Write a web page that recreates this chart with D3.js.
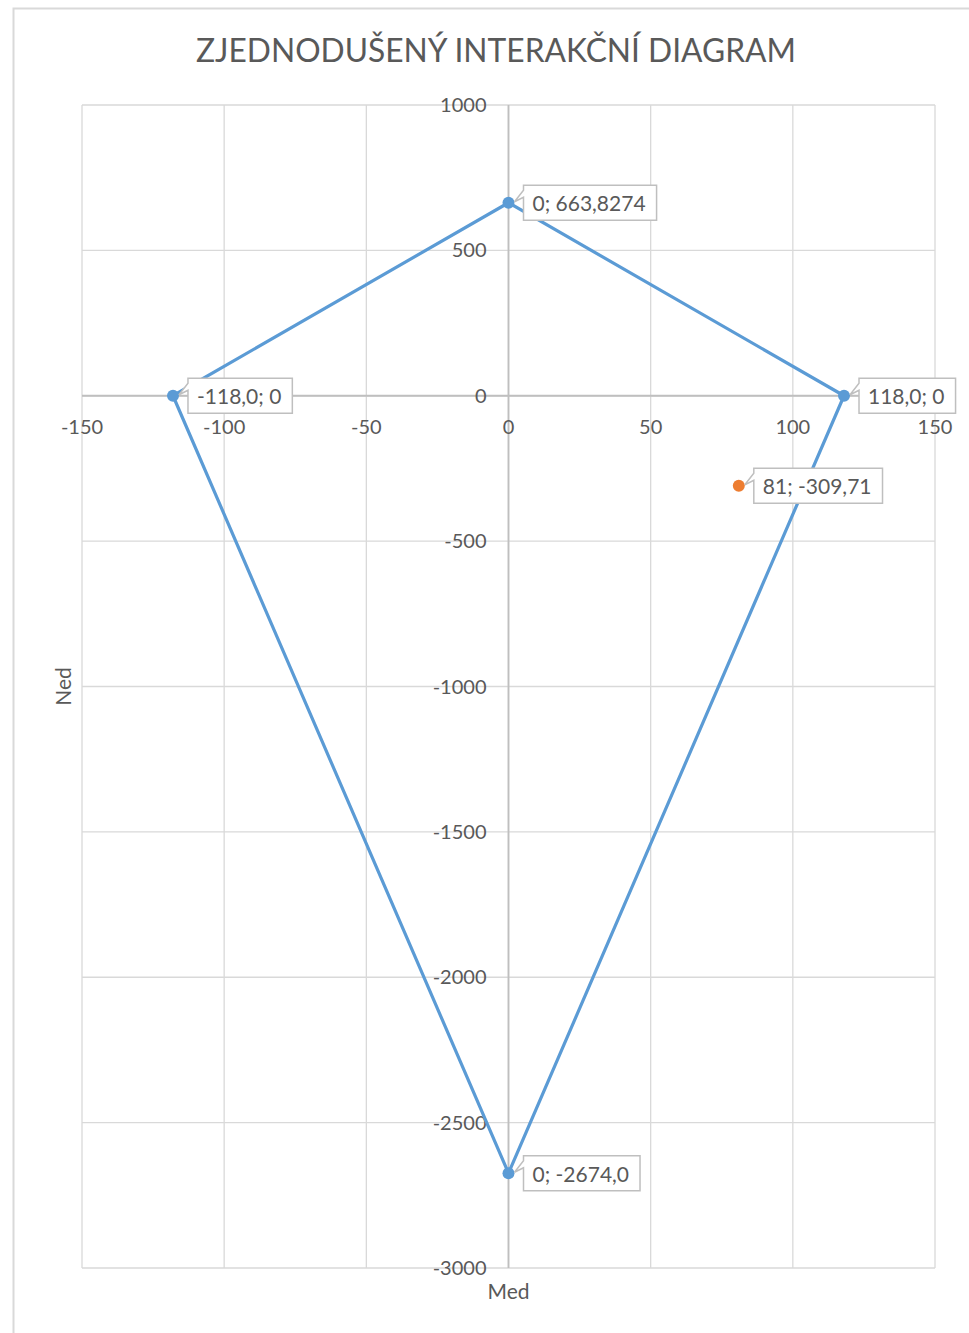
<!DOCTYPE html>
<html><head><meta charset="utf-8">
<script src="https://cdn.jsdelivr.net/npm/d3@7"></script>
<style>body{margin:0;background:#fff}svg{display:block}text{font-family:Lato,"Open Sans",sans-serif;fill:#595959}</style>
</head><body>
<svg id="c" width="969" height="1333"></svg>
<script>
const title = "ZJEDNODUŠENÝ INTERAKČNÍ DIAGRAM";
const xTitle = "Med", yTitle = "Ned";
const xTicks = [-150, -100, -50, 0, 50, 100, 150];
const yTicks = [1000, 500, 0, -500, -1000, -1500, -2000, -2500, -3000];
const diagramM = [-118, 0, 118, 0, -118];
const diagramN = [0, 663.8274, 0, -2674.0, 0];
const diagramLabels = ["-118,0; 0", "0; 663,8274", "118,0; 0", "0; -2674,0"];
const loadM = [81];
const loadN = [-309.71];
const loadLabels = ["81; -309,71"];

const svg = d3.select("#c");
const L = 82, R = 935, T = 105, B = 1268;
const x = d3.scaleLinear().domain([-150, 150]).range([L, R]);
const y = d3.scaleLinear().domain([-3000, 1000]).range([B, T]);

// outer frame
svg.append("rect").attr("x", 13.5).attr("y", 8.5).attr("width", 1000).attr("height", 1400)
  .attr("fill", "none").attr("stroke", "#d9d9d9").attr("stroke-width", 2);

// gridlines
const g = svg.append("g");
g.selectAll(".vx").data(xTicks).join("line")
  .attr("x1", d => x(d)).attr("x2", d => x(d)).attr("y1", T).attr("y2", B)
  .attr("stroke", "#d9d9d9").attr("stroke-width", 1.3);
g.selectAll(".hy").data(yTicks).join("line")
  .attr("y1", d => y(d)).attr("y2", d => y(d)).attr("x1", L).attr("x2", R)
  .attr("stroke", "#d9d9d9").attr("stroke-width", 1.3);
// zero axes
g.append("line").attr("x1", x(0)).attr("x2", x(0)).attr("y1", T).attr("y2", B).attr("stroke", "#bfbfbf").attr("stroke-width", 1.8);
g.append("line").attr("y1", y(0)).attr("y2", y(0)).attr("x1", L).attr("x2", R).attr("stroke", "#bfbfbf").attr("stroke-width", 1.8);

// tick labels
svg.selectAll(".yt").data(yTicks).join("text")
  .attr("x", x(0) - 22).attr("y", d => y(d)).attr("dy", "0.35em")
  .attr("text-anchor", "end").attr("font-size", 20).text(d => d);
svg.selectAll(".xt").data(xTicks).join("text")
  .attr("x", d => x(d)).attr("y", y(0) + 31).attr("dy", "0.35em")
  .attr("text-anchor", "middle").attr("font-size", 20).text(d => d);

// title
const tt = svg.append("text").attr("x", 496).attr("y", 51).attr("dy", "0.35em")
  .attr("text-anchor", "middle").attr("font-size", 32).text(title);
tt.attr("textLength", 600).attr("lengthAdjust", "spacingAndGlyphs");

svg.append("text").attr("x", x(0)).attr("y", 1292).attr("dy", "0.35em")
  .attr("text-anchor", "middle").attr("font-size", 21).text(xTitle);
svg.append("text").attr("transform", `translate(64,${(T + B) / 2}) rotate(-90)`).attr("dy", "0.35em")
  .attr("text-anchor", "middle").attr("font-size", 21).text(yTitle);

// series line
const pts = diagramM.map((m, i) => [m, diagramN[i]]);
svg.append("path").datum(pts)
  .attr("d", d3.line().x(d => x(d[0])).y(d => y(d[1])))
  .attr("fill", "none").attr("stroke", "#5B9BD5").attr("stroke-width", 3.2).attr("stroke-linejoin", "round");
svg.selectAll(".m1").data(pts.slice(0, 4)).join("circle")
  .attr("cx", d => x(d[0])).attr("cy", d => y(d[1])).attr("r", 6).attr("fill", "#5B9BD5");
const lp = loadM.map((m, i) => [m, loadN[i]]);
svg.selectAll(".m2").data(lp).join("circle")
  .attr("cx", d => x(d[0])).attr("cy", d => y(d[1])).attr("r", 6).attr("fill", "#ED7D31");

// data labels with callouts
function callout(px, py, txt) {
  const grp = svg.append("g");
  const t = grp.append("text").attr("font-size", 21).attr("dy", "0.35em").text(txt);
  const w = t.node().getComputedTextLength() + 20, h = 35;
  const bx = px + 15, by = py - h / 2;
  const path = `M${bx},${by} H${bx + w} V${by + h} H${bx} V${by + 12} L${px + 6},${py - 1} L${bx},${by + 5} Z`;
  grp.insert("path", "text").attr("d", path).attr("fill", "#fff").attr("stroke", "#bfbfbf").attr("stroke-width", 1.5);
  t.attr("x", bx + 9).attr("y", py + 1);
}
pts.slice(0, 4).forEach((d, i) => callout(x(d[0]), y(d[1]), diagramLabels[i]));
lp.forEach((d, i) => callout(x(d[0]), y(d[1]), loadLabels[i]));
</script>
</body></html>
